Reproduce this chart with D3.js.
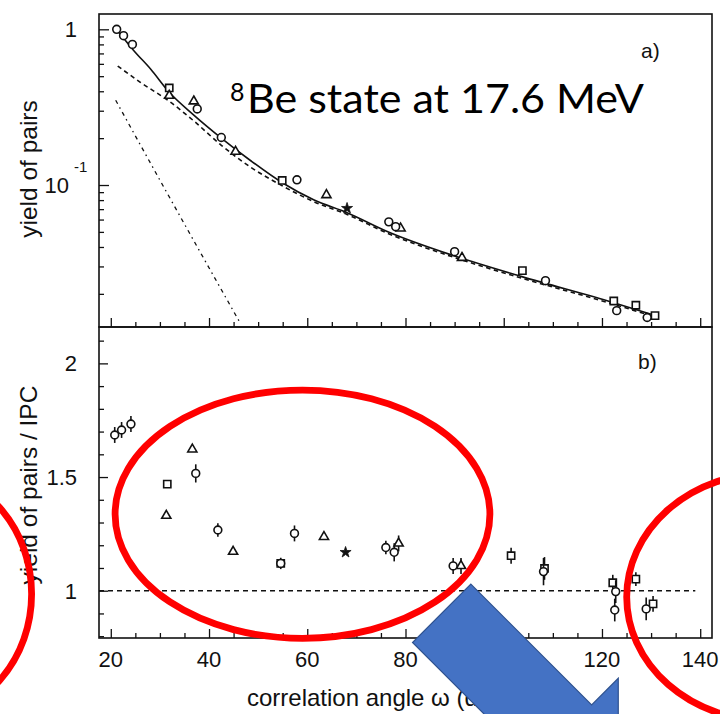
<!DOCTYPE html>
<html>
<head>
<meta charset="utf-8">
<script src="https://cdn.jsdelivr.net/npm/d3@7"></script>
<style>
  body { margin: 0; background: #fff; }
  svg { display: block; }
</style>
</head>
<body>
<svg id="chart" width="720" height="714"></svg>
<script>
// ---------- axis ticks ----------
const angleTicks = [20, 40, 60, 80, 100, 120, 140];
const ratioTicks = [1, 1.5, 2];
const ratioTickLabels = ["1", "1.5", "2"];

// ---------- panel a: pair yield (log scale) ----------
const topCircleAngle = [21.2, 22.6, 24.4, 37.6, 42.5, 57.9, 76.6, 78.0, 90.0, 108.5, 123.0, 129.2];
const topCircleYield = [1.0, 0.91, 0.80, 0.308, 0.202, 0.108, 0.058, 0.054, 0.0373, 0.0243, 0.0156, 0.0141];
const topSquareAngle = [31.9, 54.9, 103.8, 122.4, 126.9, 130.8];
const topSquareYield = [0.42, 0.107, 0.0282, 0.018, 0.0169, 0.0145];
const topTriangleAngle = [31.9, 36.9, 45.4, 63.9, 79.0, 91.5];
const topTriangleYield = [0.375, 0.345, 0.164, 0.0863, 0.0527, 0.0341];
const topStarAngle = [68.1];
const topStarYield = [0.0709];

// full fit (solid), IPC contribution (dashed), extra component (dash-dot)
const totalAngle = [21.4, 24.7, 28.1, 31.9, 36.9, 42.5, 48.5, 55.0, 61.4, 68.1, 76.4, 90.5, 103.7, 122.4, 130.5];
const totalYield = [0.98, 0.729, 0.556, 0.394, 0.2815, 0.2003, 0.1432, 0.1030, 0.0801, 0.0664, 0.0501, 0.0346, 0.0258, 0.01754, 0.01463];
const ipcAngle = [21.4, 26.1, 31.9, 36.9, 42.5, 48.5, 55.0, 61.4, 68.1, 76.4, 90.5, 103.7, 122.4, 130.5];
const ipcYield = [0.581, 0.455, 0.345, 0.258, 0.180, 0.130, 0.0985, 0.0780, 0.0647, 0.0489, 0.0338, 0.0252, 0.01714, 0.0143];
const extraAngle = [21.0, 31.2, 46.4];
const extraYield = [0.350, 0.0919, 0.0129];

// ---------- panel b: yield / IPC ----------
const ratioCircleAngle = [20.8, 22.2, 24.1, 37.3, 41.8, 54.6, 57.4, 76.0, 77.7, 89.7, 108.1, 122.8, 122.6, 129.0];
const ratioCircleValue = [1.685, 1.707, 1.733, 1.516, 1.267, 1.12, 1.252, 1.19, 1.169, 1.109, 1.084, 0.996, 0.915, 0.92];
const ratioCircleError = [0.035, 0.035, 0.035, 0.04, 0.03, 0.025, 0.035, 0.03, 0.04, 0.035, 0.06, 0.05, 0.05, 0.05];
const ratioSquareAngle = [31.5, 54.6, 101.5, 108.3, 122.2, 126.9, 130.4];
const ratioSquareValue = [1.469, 1.12, 1.154, 1.098, 1.035, 1.051, 0.942];
const ratioSquareError = [0, 0.02, 0.035, 0.05, 0.035, 0.03, 0.035];
const ratioTriangleAngle = [31.3, 36.6, 44.9, 63.4, 78.6, 91.3];
const ratioTriangleValue = [1.33, 1.622, 1.172, 1.237, 1.208, 1.109];
const ratioTriangleError = [0, 0, 0, 0, 0.035, 0.035];
const ratioStarAngle = [67.8];
const ratioStarValue = [1.169];
const unityAngle = [17.6, 139];
const unityValue = [1, 1];

// ---------- layout ----------
const left = 99, right = 712, topY = 14, mid = 327, bottom = 638;
const ink = "#111";
const font = "'Liberation Sans', Arial, sans-serif";

const svg = d3.select("#chart");
svg.append("rect").attr("width", 720).attr("height", 714).attr("fill", "#fff");

const x = d3.scaleLinear().domain([17.6, 142.4]).range([left, right]);
const yTop = d3.scaleLog().domain([0.01225, 1.254]).range([mid, topY]);
const yBot = d3.scaleLinear().domain([0.792, 2.16]).range([bottom, mid]);

const zip = (a, b, c) => a.map((v, i) => ({ x: v, y: b[i], e: c ? c[i] : 0 }));

// clip paths
const defs = svg.append("defs");
defs.append("clipPath").attr("id", "clipTop").append("rect")
  .attr("x", left).attr("y", topY).attr("width", right - left).attr("height", mid - topY);
defs.append("clipPath").attr("id", "clipBot").append("rect")
  .attr("x", left).attr("y", mid).attr("width", right - left).attr("height", bottom - mid);

// ---------- axes ----------
const minorAngles = d3.range(25, 141, 5).filter(v => v % 20 !== 0);

function xAxes(yPos) {
  svg.append("g").attr("transform", `translate(0,${yPos})`)
    .call(d3.axisBottom(x).tickValues(angleTicks).tickSizeInner(-9).tickSizeOuter(0).tickFormat(""))
    .call(g => g.select(".domain").remove());
  svg.append("g").attr("transform", `translate(0,${yPos})`)
    .call(d3.axisBottom(x).tickValues(minorAngles).tickSizeInner(-5).tickSizeOuter(0).tickFormat(""))
    .call(g => g.select(".domain").remove());
}
xAxes(mid);
xAxes(bottom);

// x tick labels (bottom panel)
svg.append("g").selectAll("text").data(angleTicks).join("text")
  .attr("x", d => x(d)).attr("y", 667)
  .attr("text-anchor", "middle")
  .attr("font-family", font).attr("font-size", 22).attr("fill", ink)
  .text(d => d);

// top y axis (log)
const logMinor = [];
[-2, -1, 0].forEach(k => d3.range(2, 10).forEach(m => {
  const v = m * Math.pow(10, k);
  if (v > 0.01225 && v < 1.254) logMinor.push(v);
}));
svg.append("g").attr("transform", `translate(${left},0)`)
  .call(d3.axisLeft(yTop).tickValues([1, 0.1]).tickSizeInner(-10).tickSizeOuter(0).tickFormat(""))
  .call(g => g.select(".domain").remove());
svg.append("g").attr("transform", `translate(${left},0)`)
  .call(d3.axisLeft(yTop).tickValues(logMinor).tickSizeInner(-5).tickSizeOuter(0).tickFormat(""))
  .call(g => g.select(".domain").remove());

svg.append("text").attr("x", 77).attr("y", yTop(1) + 8)
  .attr("text-anchor", "end").attr("font-family", font).attr("font-size", 22).attr("fill", ink)
  .text("1");
svg.append("text").attr("x", 69).attr("y", yTop(0.1) + 8)
  .attr("text-anchor", "end").attr("font-family", font).attr("font-size", 22).attr("fill", ink)
  .text("10");
svg.append("text").attr("x", 74).attr("y", yTop(0.1) - 13)
  .attr("font-family", font).attr("font-size", 15).attr("fill", ink)
  .text("-1");

// bottom y axis
const ratioMinor = d3.range(8, 22).map(v => v / 10).filter(v => !ratioTicks.includes(v));
svg.append("g").attr("transform", `translate(${left},0)`)
  .call(d3.axisLeft(yBot).tickValues(ratioTicks).tickSizeInner(-9).tickSizeOuter(0).tickFormat(""))
  .call(g => g.select(".domain").remove());
svg.append("g").attr("transform", `translate(${left},0)`)
  .call(d3.axisLeft(yBot).tickValues(ratioMinor).tickSizeInner(-5).tickSizeOuter(0).tickFormat(""))
  .call(g => g.select(".domain").remove());
svg.append("g").selectAll("text").data(ratioTicks).join("text")
  .attr("x", 77).attr("y", d => yBot(d) + 8)
  .attr("text-anchor", "end").attr("font-family", font).attr("font-size", 22).attr("fill", ink)
  .text((d, i) => ratioTickLabels[i]);

svg.selectAll(".tick line").attr("stroke", ink).attr("stroke-width", 1.3);

// frames
svg.append("rect").attr("x", left).attr("y", topY).attr("width", right - left).attr("height", mid - topY)
  .attr("fill", "none").attr("stroke", ink).attr("stroke-width", 1.6);
svg.append("rect").attr("x", left).attr("y", mid).attr("width", right - left).attr("height", bottom - mid)
  .attr("fill", "none").attr("stroke", ink).attr("stroke-width", 1.6);

// axis titles
svg.append("text").attr("transform", "translate(37,169) rotate(-90)")
  .attr("text-anchor", "middle").attr("font-family", font).attr("font-size", 24.5).attr("fill", ink)
  .text("yield of pairs");
svg.append("text").attr("transform", "translate(37,485) rotate(-90)")
  .attr("text-anchor", "middle").attr("font-family", font).attr("font-size", 24.5).attr("fill", ink)
  .text("yield of pairs / IPC");
svg.append("text").attr("x", 247).attr("y", 706)
  .attr("font-family", font).attr("font-size", 24).attr("fill", ink)
  .text("correlation angle ω (deg)");

// panel tags
svg.append("text").attr("x", 641).attr("y", 58)
  .attr("font-family", font).attr("font-size", 21).attr("fill", ink).text("a)");
svg.append("text").attr("x", 638).attr("y", 369)
  .attr("font-family", font).attr("font-size", 21).attr("fill", ink).text("b)");

// ---------- panel a curves ----------
const gTop = svg.append("g").attr("clip-path", "url(#clipTop)");
const lineTop = d3.line().x(d => x(d.x)).y(d => yTop(d.y)).curve(d3.curveMonotoneX);
gTop.append("path").datum(zip(extraAngle, extraYield)).attr("d", lineTop)
  .attr("fill", "none").attr("stroke", ink).attr("stroke-width", 1.3)
  .attr("stroke-dasharray", "4,4,1.5,4");
gTop.append("path").datum(zip(ipcAngle, ipcYield)).attr("d", lineTop)
  .attr("fill", "none").attr("stroke", ink).attr("stroke-width", 1.6)
  .attr("stroke-dasharray", "4.5,3.5");
gTop.append("path").datum(zip(totalAngle, totalYield)).attr("d", lineTop)
  .attr("fill", "none").attr("stroke", ink).attr("stroke-width", 1.6);

// ---------- markers ----------
function drawMarkers(g, pts, shape, ys) {
  // error bars first
  g.append("g").selectAll("line").data(pts.filter(p => p.e > 0)).join("line")
    .attr("x1", p => x(p.x)).attr("x2", p => x(p.x))
    .attr("y1", p => ys(p.y - p.e)).attr("y2", p => ys(p.y + p.e))
    .attr("stroke", ink).attr("stroke-width", 1.6);
  const sel = g.append("g").selectAll("path").data(pts).join("path")
    .attr("transform", p => `translate(${x(p.x)},${ys(p.y)})`);
  if (shape === "circle") {
    sel.attr("d", d3.symbol(d3.symbolCircle, 48)()).attr("fill", "#fff").attr("stroke", ink).attr("stroke-width", 1.6);
  } else if (shape === "square") {
    sel.attr("d", d3.symbol(d3.symbolSquare, 52)()).attr("fill", "#fff").attr("stroke", ink).attr("stroke-width", 1.6);
  } else if (shape === "triangle") {
    sel.attr("d", d3.symbol(d3.symbolTriangle, 36)()).attr("fill", "#fff").attr("stroke", ink).attr("stroke-width", 1.6);
  } else {
    sel.attr("d", d3.symbol(d3.symbolStar, 38)()).attr("fill", ink).attr("stroke", ink).attr("stroke-width", 0.8);
  }
}

drawMarkers(gTop, zip(topSquareAngle, topSquareYield), "square", yTop);
drawMarkers(gTop, zip(topTriangleAngle, topTriangleYield), "triangle", yTop);
drawMarkers(gTop, zip(topCircleAngle, topCircleYield), "circle", yTop);
drawMarkers(gTop, zip(topStarAngle, topStarYield), "star", yTop);

// ---------- panel b ----------
const gBot = svg.append("g").attr("clip-path", "url(#clipBot)");
const lineBot = d3.line().x(d => x(d.x)).y(d => yBot(d.y));
gBot.append("path").datum(zip(unityAngle, unityValue)).attr("d", lineBot)
  .attr("fill", "none").attr("stroke", ink).attr("stroke-width", 1.6)
  .attr("stroke-dasharray", "5,4");

drawMarkers(gBot, zip(ratioSquareAngle, ratioSquareValue, ratioSquareError), "square", yBot);
drawMarkers(gBot, zip(ratioTriangleAngle, ratioTriangleValue, ratioTriangleError), "triangle", yBot);
drawMarkers(gBot, zip(ratioCircleAngle, ratioCircleValue, ratioCircleError), "circle", yBot);
drawMarkers(gBot, zip(ratioStarAngle, ratioStarValue), "star", yBot);

// ---------- slide annotations ----------
const calib = "Lato, 'Open Sans', sans-serif";
svg.append("text").attr("x", 230).attr("y", 101)
  .attr("font-family", calib).attr("font-size", 25).attr("fill", "#000").text("8");
svg.append("text").attr("x", 247).attr("y", 113)
  .attr("font-family", calib).attr("font-size", 41).attr("fill", "#000")
  .attr("textLength", 397).attr("lengthAdjust", "spacingAndGlyphs")
  .text("Be state at 17.6 MeV");

const red = "#FF0000";
const ellipses = [
  { cx: 302.5, cy: 514.2, rx: 187.4, ry: 124.1 },
  { cx: -78.4, cy: 594, rx: 110, ry: 122.6 },
  { cx: 768.9, cy: 597, rx: 142.2, ry: 124 }
];
svg.append("g").selectAll("ellipse").data(ellipses).join("ellipse")
  .attr("cx", d => d.cx).attr("cy", d => d.cy).attr("rx", d => d.rx).attr("ry", d => d.ry)
  .attr("fill", "none").attr("stroke", red).attr("stroke-width", 6.8);

// block arrow pointing down-right
const tail = [441.7, 613.3];
const shaftLen = 170.8, headLen = 78.9, shaftHalf = 41.25, headHalf = 78.9;
const u = [Math.SQRT1_2, Math.SQRT1_2], v = [Math.SQRT1_2, -Math.SQRT1_2];
const pt = (a, b) => [tail[0] + a * u[0] + b * v[0], tail[1] + a * u[1] + b * v[1]];
const arrowPts = [
  pt(0, shaftHalf), pt(shaftLen, shaftHalf), pt(shaftLen, headHalf),
  pt(shaftLen + headLen, 0),
  pt(shaftLen, -headHalf), pt(shaftLen, -shaftHalf), pt(0, -shaftHalf)
];
svg.append("polygon").attr("points", arrowPts.map(p => p.join(",")).join(" "))
  .attr("fill", "#4472C4").attr("stroke", "#2F528F").attr("stroke-width", 1.2);
</script>
</body>
</html>
